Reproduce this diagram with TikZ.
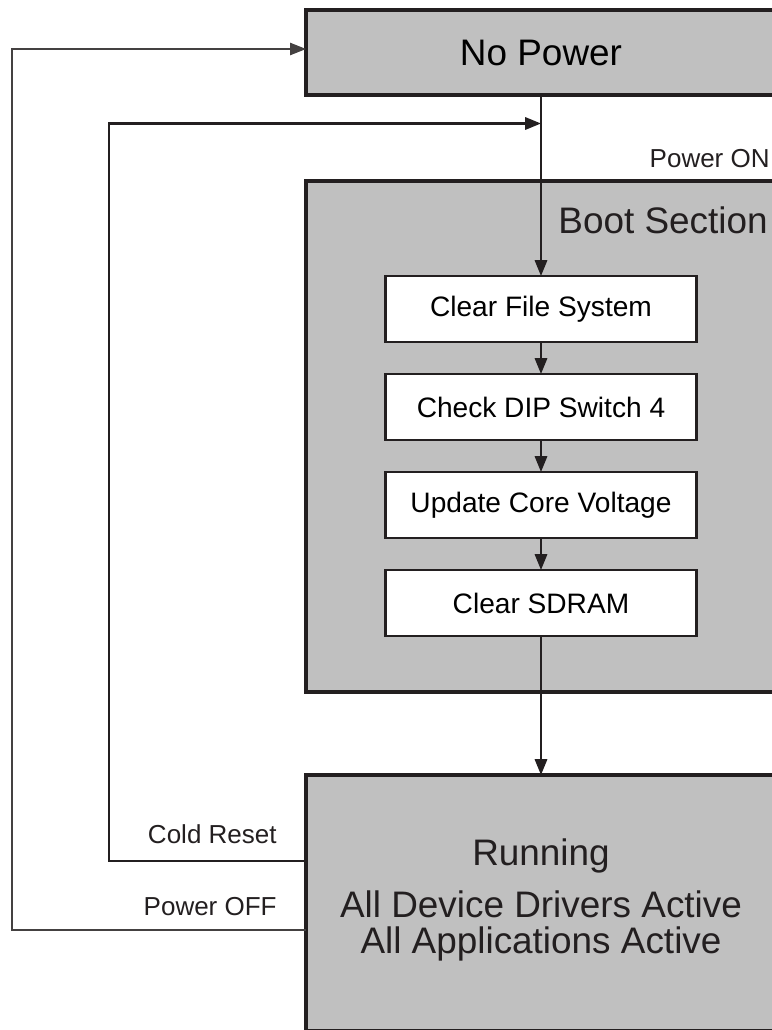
\documentclass[tikz,border=0pt]{standalone}
\usepackage{fontspec}
\setmainfont{Liberation Sans}
\usetikzlibrary{positioning,arrows.meta}
\definecolor{boxgrey}{RGB}{192,192,192}
\definecolor{ink}{RGB}{35,31,32}

\begin{document}
\begin{tikzpicture}[
	state/.style={draw=ink,fill=boxgrey,line width=2.3pt,minimum width=9.4cm,inner sep=0pt,outer sep=0pt},
	stepbox/.style={draw=ink,fill=white,line width=1.2pt,minimum width=6.22cm,minimum height=1.32cm,
		inner sep=0pt,outer sep=0pt,font=\fontsize{16}{19}\selectfont},
	flow/.style={draw=ink,line width=1.25pt,-{Triangle[length=9pt,width=7pt]}},
	lbl/.style={inner sep=0pt,text=ink,font=\fontsize{14.8}{17}\selectfont}
	]
	\useasboundingbox (0,0) rectangle (15.44,-20.6);
	\clip (0,0) rectangle (15.44,-20.6);

	    \node[state,minimum height=1.7cm] (nopower) at (10.82,-1.05) {\fontsize{21}{25}\selectfont No Power};
	    \node[state,minimum height=10.22cm] (boot) at (10.82,-8.73) {};
	    \node[state,minimum height=5.12cm] (running) at (10.82,-18.06) {};

	    \node[inner sep=0pt,anchor=base east,text=ink,font=\fontsize{21}{25}\selectfont] (bootlabel) at (15.36,-4.66) {Boot Section};

	    \node[stepbox] (clearfs) at (10.82,-6.18) {Clear File System};
	    \node[stepbox,below=0.64cm of clearfs] (dipsw) {Check DIP Switch 4};
	    \node[stepbox,below=0.64cm of dipsw] (corevolt) {Update Core Voltage};
	    \node[stepbox,below=0.64cm of corevolt] (clearsdram) {Clear SDRAM};

	    \node[anchor=base,align=center,inner sep=0pt,text=ink,font=\fontsize{21}{20.4}\selectfont] (runtext) at (10.82,-19.06)
	    	{Running\\[9pt]All Device Drivers Active\\All Applications Active};

	    \node[lbl,anchor=base east] (poweron) at (15.4,-3.34) {Power ON};
	    \node[lbl,anchor=base east] (coldreset) at (5.54,-16.86) {Cold Reset};
	    \node[lbl,anchor=base east] (poweroff) at (5.54,-18.3) {Power OFF};

	    \draw[flow] (nopower.south) -- (clearfs.north);
	    \draw[flow] (clearfs) -- (dipsw);
	    \draw[flow] (dipsw) -- (corevolt);
	    \draw[flow] (corevolt) -- (clearsdram);
	    \draw[flow] (clearsdram.south) -- (running.north);

	    %\node at (0.24,-0.98) {};
	    \coordinate (resettop) at (2.18,-2.47);
	    \coordinate (offtop) at (0.24,-0.98);
	    \draw[flow] ([yshift=0.84cm]running.west) -| (resettop) -- (resettop -| nopower.south);
	    \draw[draw=ink!85,line width=0.6pt,-{Triangle[length=9pt,width=7pt]}]
	    	([yshift=-0.54cm]running.west) -| (offtop) -- ([yshift=0.07cm]nopower.west);

	\end{tikzpicture}
\end{document}
